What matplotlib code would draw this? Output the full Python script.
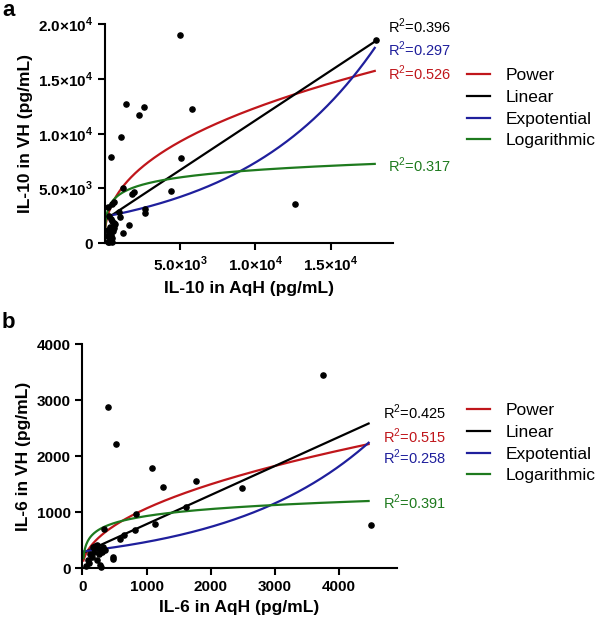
import numpy as np
import matplotlib
matplotlib.use("Agg")
import matplotlib.pyplot as plt
from matplotlib.lines import Line2D

plt.rcParams['font.family'] = ['Liberation Sans', 'DejaVu Sans']
plt.rcParams['mathtext.fontset'] = 'custom'
plt.rcParams['mathtext.rm'] = 'Liberation Sans'
plt.rcParams['mathtext.bf'] = 'Liberation Sans:bold'

# ---- panel a : IL-10 ----
il10_aqh = [5000, 18000, 1400, 2600, 2300, 5800, 1100, 450, 5100, 4400, 1250, 1800, 1950,
            12600, 2650, 2650, 600, 500, 250, 950, 1050, 1600, 1250,
            300, 400, 500, 600, 350, 450, 550, 300, 400, 500, 350, 450, 250, 600, 700,
            200, 150, 300, 500, 650]
il10_vh = [19000, 18500, 12700, 12400, 11700, 12200, 9700, 7850, 7800, 4750, 5050, 4500, 4650,
           3550, 3150, 2700, 3700, 3600, 3300, 2800, 2400, 1600, 950,
           2500, 2200, 2000, 1800, 1500, 1300, 1100, 900, 700, 500, 300, 150, 100, 1600, 1700,
           1200, 600, 50, 50, 1400]
il10_r2 = {"Linear": "0.396", "Expotential": "0.297", "Power": "0.526", "Logarithmic": "0.317"}

# fit coefficients
il10_fit = {
    "Power": (270, 0.415),          # y = a * x^b
    "Linear": (2100, 0.91),          # y = a + b x
    "Expotential": (2400, 1.12e-4),  # y = a * exp(b x)
    "Logarithmic": (-2246, 967),     # y = a + b ln x
}

# ---- panel b : IL-6 ----
il6_aqh = [395, 525, 1090, 1255, 1770, 2490, 3755, 4515, 840, 825, 1125, 1610, 330, 580, 655,
           475, 480, 320, 345, 280, 290, 200, 250, 180, 150, 100, 120, 220, 260, 60, 80, 300,
           160, 230]
il6_vh = [2875, 2220, 1790, 1460, 1560, 1435, 3460, 775, 970, 680, 790, 1090, 710, 525, 590,
          170, 200, 385, 330, 60, 30, 400, 350, 300, 200, 100, 250, 150, 250, 50, 150, 300,
          380, 420]
il6_r2 = {"Linear": "0.425", "Power": "0.515", "Expotential": "0.258", "Logarithmic": "0.391"}

il6_fit = {
    "Power": (37, 0.487),
    "Linear": (270, 0.518),
    "Expotential": (300, 4.5e-4),
    "Logarithmic": (-303, 179),
}

colors = {"Power": "#c0161b", "Linear": "#000000", "Expotential": "#1f1f9c",
          "Logarithmic": "#1e7a1e"}
order = ["Power", "Linear", "Expotential", "Logarithmic"]


def model(kind, x, a, b):
    if kind == "Power":
        return a * x ** b
    if kind == "Linear":
        return a + b * x
    if kind == "Expotential":
        return a * np.exp(b * x)
    return a + b * np.log(x)


def sci(m, e):
    return m + r"×10$^{\mathbf{" + e + "}}$"


def panel(ax, xs, ys, fits, xmax, ymax, xlo, xhi):
    ax.scatter(xs, ys, s=14, color="black", zorder=3, clip_on=False)
    xx = np.linspace(xlo, xhi, 400)
    for k in order:
        a, b = fits[k]
        ax.plot(xx, model(k, xx, a, b), color=colors[k], lw=1.6, zorder=2)
    ax.set_xlim(0, xmax)
    ax.set_ylim(0, ymax)
    for s in ["top", "right"]:
        ax.spines[s].set_visible(False)
    for s in ["left", "bottom"]:
        ax.spines[s].set_linewidth(1.5)
    ax.tick_params(width=1.5, length=5, labelsize=11)
    for t in ax.get_xticklabels() + ax.get_yticklabels():
        t.set_fontweight("bold")


fig = plt.figure(figsize=(5.97, 6.18), dpi=100)
W, H = 597, 618


def axes_px(x0, x1, y0, y1):
    return fig.add_axes([x0 / W, 1 - y0 / H, (x1 - x0) / W, (y0 - y1) / H])


def r2(k, val):
    return "R$^{2}$=" + val


# panel a
ax1 = axes_px(104.5, 392.7, 243, 24)
ax1.set_xticks([5000, 10000, 15000])
ax1.set_xticklabels([sci("5.0", "3"), sci("1.0", "4"), sci("1.5", "4")])
ax1.set_yticks([0, 5000, 10000, 15000, 20000])
ax1.set_yticklabels(["0", sci("5.0", "3"), sci("1.0", "4"), sci("1.5", "4"), sci("2.0", "4")])
panel(ax1, il10_aqh, il10_vh, il10_fit, 19090, 20000, 15, 17900)
ax1.set_xlabel("IL-10 in AqH (pg/mL)", fontsize=12.5, fontweight="bold", labelpad=5)
ax1.set_ylabel("IL-10 in VH (pg/mL)", fontsize=12.5, fontweight="bold", labelpad=3)

r2_pos_a = {"Linear": 26.7, "Expotential": 49, "Power": 73.3, "Logarithmic": 165}
for k, yp in r2_pos_a.items():
    fig.text(388 / W, 1 - yp / H, r2(k, il10_r2[k]), color=colors[k], fontsize=10.5,
             va="center", ha="left")

# panel b
ax2 = axes_px(82.5, 396.7, 568.3, 344.3)
ax2.set_xticks([0, 1000, 2000, 3000, 4000])
ax2.set_yticks([0, 1000, 2000, 3000, 4000])
panel(ax2, il6_aqh, il6_vh, il6_fit, 4909, 4000, 15, 4470)
ax2.set_xlabel("IL-6 in AqH (pg/mL)", fontsize=12.5, fontweight="bold", labelpad=4.5)
ax2.set_ylabel("IL-6 in VH (pg/mL)", fontsize=12.5, fontweight="bold", labelpad=4)

r2_pos_b = {"Linear": 412.7, "Power": 436.7, "Expotential": 457.3, "Logarithmic": 502}
for k, yp in r2_pos_b.items():
    fig.text(383 / W, 1 - yp / H, r2(k, il6_r2[k]), color=colors[k], fontsize=10.5,
             va="center", ha="left")

# legends
handles = [Line2D([0], [0], color=colors[k], lw=1.6) for k in order]
for top in (68, 403):
    fig.legend(handles, order, loc="upper left", bbox_to_anchor=(467 / W, 1 - top / H),
               frameon=False, fontsize=12.5, handlelength=1.3, handletextpad=0.9,
               labelspacing=0.38, borderaxespad=0, borderpad=0)

fig.text(2 / W, 1 - 10 / H, "a", fontsize=16, fontweight="bold", va="center")
fig.text(2 / W, 1 - 322 / H, "b", fontsize=16, fontweight="bold", va="center")

fig.savefig("out.png", dpi=100)
